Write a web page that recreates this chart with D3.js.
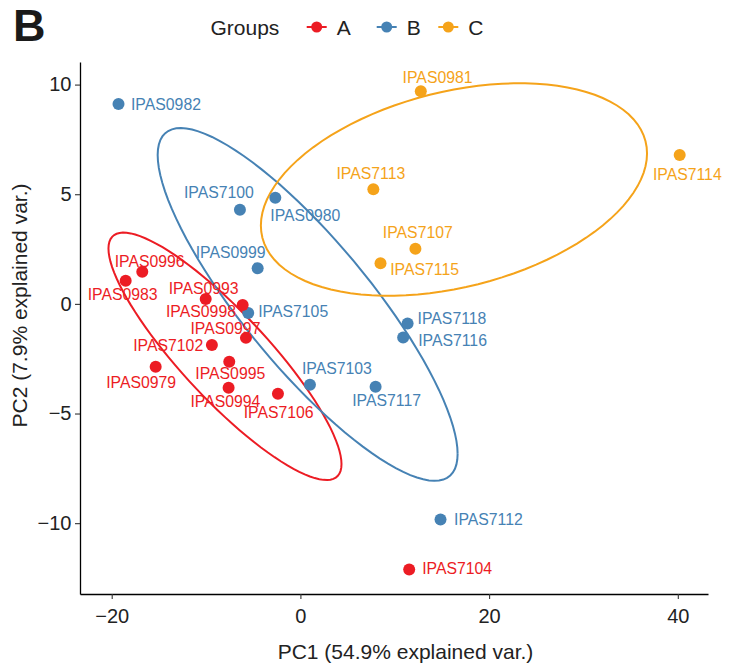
<!DOCTYPE html>
<html>
<head>
<meta charset="utf-8">
<script src="https://cdn.jsdelivr.net/npm/d3@7"></script>
<style>
  body { margin: 0; background: #fff; }
  svg { display: block; font-family: "Liberation Sans", Arial, sans-serif; }
</style>
</head>
<body>
<div id="chart"></div>
<script>
// Sample names, groups and PCA scores
let samples = ['IPAS0982', 'IPAS7100', 'IPAS0980', 'IPAS0999', 'IPAS7105', 'IPAS7118', 'IPAS7116', 'IPAS7103', 'IPAS7117', 'IPAS7112',
    'IPAS0996', 'IPAS0983', 'IPAS0993', 'IPAS0998', 'IPAS0997', 'IPAS7102', 'IPAS0995', 'IPAS0979', 'IPAS0994', 'IPAS7106', 'IPAS7104',
    'IPAS0981', 'IPAS7113', 'IPAS7114', 'IPAS7107', 'IPAS7115'];
let groups = ['B', 'B', 'B', 'B', 'B', 'B', 'B', 'B', 'B', 'B',
    'A', 'A', 'A', 'A', 'A', 'A', 'A', 'A', 'A', 'A', 'A',
    'C', 'C', 'C', 'C', 'C'];
let pc1 = [-19.28, -6.41, -2.66, -4.53, -5.53, 11.36, 10.89, 1.01, 7.97, 14.85,
    -16.76, -18.52, -10.04, -6.12, -5.77, -9.38, -7.54, -15.34, -7.61, -2.38, 11.53,
    12.76, 7.73, 40.2, 12.19, 8.49];
let pc2 = [9.12, 4.29, 4.84, 1.63, -0.42, -0.89, -1.53, -3.69, -3.78, -9.83,
    1.46, 1.05, 0.22, -0.05, -1.55, -1.88, -2.64, -2.87, -3.83, -4.10, -12.11,
    9.70, 5.23, 6.79, 2.51, 1.85];

let groupNames = ['A', 'B', 'C'];
let xTicks = [-20, 0, 20, 40];
let yTicks = [-10, -5, 0, 5, 10];

let colors = { A: '#EC1C24', B: '#4682B4', C: '#F5A31A' };

// label placement (pixel offsets from the point, like ggrepel output)
let labelPos = {
    IPAS0982: [12.5, 0, 'start'], IPAS7100: [-21, -17, 'middle'], IPAS0980: [30, 18, 'middle'],
    IPAS0999: [-27, -15.5, 'middle'], IPAS7105: [10, -2, 'start'], IPAS7118: [10, -5, 'start'],
    IPAS7116: [15, 3, 'start'], IPAS7103: [27, -16, 'middle'], IPAS7117: [11, 14, 'middle'],
    IPAS7112: [13.5, 0, 'start'], IPAS7104: [13, -1, 'start'], IPAS0996: [7.4, -10.7, 'middle'],
    IPAS0983: [-3, 13.3, 'middle'], IPAS0993: [-2, -10.7, 'middle'], IPAS0998: [-6.7, 6, 'end'],
    IPAS0997: [-20.5, -9.7, 'middle'], IPAS7102: [-8.7, 0.7, 'end'], IPAS0995: [1, 11.6, 'middle'],
    IPAS0979: [-14.5, 15.6, 'middle'], IPAS0994: [-3.2, 13.3, 'middle'], IPAS7106: [0.7, 19, 'middle'],
    IPAS0981: [16.8, -14.3, 'middle'], IPAS7113: [-2.5, -15.7, 'middle'], IPAS7114: [7.6, 19, 'middle'],
    IPAS7107: [2.4, -17, 'middle'], IPAS7115: [9.7, 6, 'start']
};

let data = samples.map(function (s, i) {
    return { name: s, group: groups[i], x: pc1[i], y: pc2[i] };
});

// Set dimensions and margins
let W = 740, H = 671;
let margin = { top: 62, right: 32, bottom: 77, left: 80 },
    width = W - margin.left - margin.right,
    height = H - margin.top - margin.bottom;

let x = d3.scaleLinear().domain([-23.36, 43.2]).range([0, width]);
let y = d3.scaleLinear().domain([-13.23, 11.03]).range([height, 0]);

let root = d3.select('#chart').append('svg')
    .attr('width', W)
    .attr('height', H);

let svg = root.append('g')
    .attr('transform', 'translate(' + margin.left + ',' + margin.top + ')');

// 68% normal data ellipses (as in ggbiplot)
let ed = Math.sqrt(-2 * Math.log(1 - 0.68));
let theta = d3.range(0, 101).map(function (i) { return i / 100 * 2 * Math.PI; });
let ellLine = d3.line()
    .x(function (d) { return x(d[0]); })
    .y(function (d) { return y(d[1]); });

groupNames.forEach(function (g) {
    let pts = data.filter(function (d) { return d.group === g; });
    let n = pts.length;
    let mx = d3.mean(pts, function (d) { return d.x; });
    let my = d3.mean(pts, function (d) { return d.y; });
    let sxx = d3.sum(pts, function (d) { return (d.x - mx) * (d.x - mx); }) / (n - 1);
    let syy = d3.sum(pts, function (d) { return (d.y - my) * (d.y - my); }) / (n - 1);
    let sxy = d3.sum(pts, function (d) { return (d.x - mx) * (d.y - my); }) / (n - 1);
    let a = Math.sqrt(sxx), b = sxy / a, c = Math.sqrt(syy - b * b);
    let ell = theta.map(function (t) {
        let ct = Math.cos(t), st = Math.sin(t);
        return [mx + ed * ct * a, my + ed * (ct * b + st * c)];
    });
    svg.append('path')
        .datum(ell)
        .attr('d', ellLine)
        .attr('fill', 'none')
        .attr('stroke', colors[g])
        .attr('stroke-width', 2);
});

// Points
svg.selectAll('circle.pt')
    .data(data)
    .enter().append('circle')
    .attr('class', 'pt')
    .attr('cx', function (d) { return x(d.x); })
    .attr('cy', function (d) { return y(d.y); })
    .attr('r', 6)
    .attr('fill', function (d) { return colors[d.group]; });

// Labels
svg.selectAll('text.lab')
    .data(data)
    .enter().append('text')
    .attr('class', 'lab')
    .attr('x', function (d) { return x(d.x) + labelPos[d.name][0]; })
    .attr('y', function (d) { return y(d.y) + labelPos[d.name][1]; })
    .attr('dy', '0.36em')
    .attr('text-anchor', function (d) { return labelPos[d.name][2]; })
    .attr('font-size', '15.8px')
    .attr('fill', function (d) { return colors[d.group]; })
    .text(function (d) { return d.name; });

// Axes
let xAxis = svg.append('g')
    .attr('transform', 'translate(0,' + height + ')')
    .call(d3.axisBottom(x).tickValues(xTicks).tickSize(5).tickPadding(10).tickSizeOuter(0));
let yAxis = svg.append('g')
    .call(d3.axisLeft(y).tickValues(yTicks).tickSize(5).tickPadding(3.5).tickSizeOuter(0));

[xAxis, yAxis].forEach(function (ax) {
    ax.select('.domain').attr('stroke', '#000').attr('stroke-width', 1.3);
    ax.selectAll('.tick line').attr('stroke', '#333').attr('stroke-width', 1.1);
    ax.selectAll('.tick text')
        .attr('font-family', '"Liberation Sans", Arial, sans-serif')
        .attr('font-size', '20px')
        .attr('fill', '#222');
});

// Axis titles
root.append('text')
    .attr('x', 405.5)
    .attr('y', 659)
    .attr('text-anchor', 'middle')
    .attr('font-size', '21px')
    .attr('fill', '#222')
    .text('PC1 (54.9% explained var.)');

root.append('text')
    .attr('transform', 'translate(27,305.5) rotate(-90)')
    .attr('text-anchor', 'middle')
    .attr('font-size', '21px')
    .attr('fill', '#222')
    .text('PC2 (7.9% explained var.)');

// Panel letter
root.append('text')
    .attr('x', 13)
    .attr('y', 41)
    .attr('font-size', '45px')
    .attr('font-weight', 'bold')
    .attr('fill', '#1a1a1a')
    .text('B');

// Legend
let legendKeyX = [316.7, 386.7, 448.3];
root.append('text')
    .attr('x', 210.5)
    .attr('y', 35)
    .attr('font-size', '21px')
    .attr('fill', '#222')
    .text('Groups');

let legend = root.selectAll('g.leg')
    .data(groupNames)
    .enter().append('g')
    .attr('class', 'leg')
    .attr('transform', function (d, i) { return 'translate(' + legendKeyX[i] + ',27)'; });
legend.append('line')
    .attr('x1', -10).attr('x2', 10)
    .attr('stroke', function (d) { return colors[d]; })
    .attr('stroke-width', 2);
legend.append('circle')
    .attr('r', 5.5)
    .attr('fill', function (d) { return colors[d]; });
legend.append('text')
    .attr('x', 20)
    .attr('y', 8)
    .attr('font-size', '21px')
    .attr('fill', '#222')
    .text(function (d) { return d; });
</script>
</body>
</html>
